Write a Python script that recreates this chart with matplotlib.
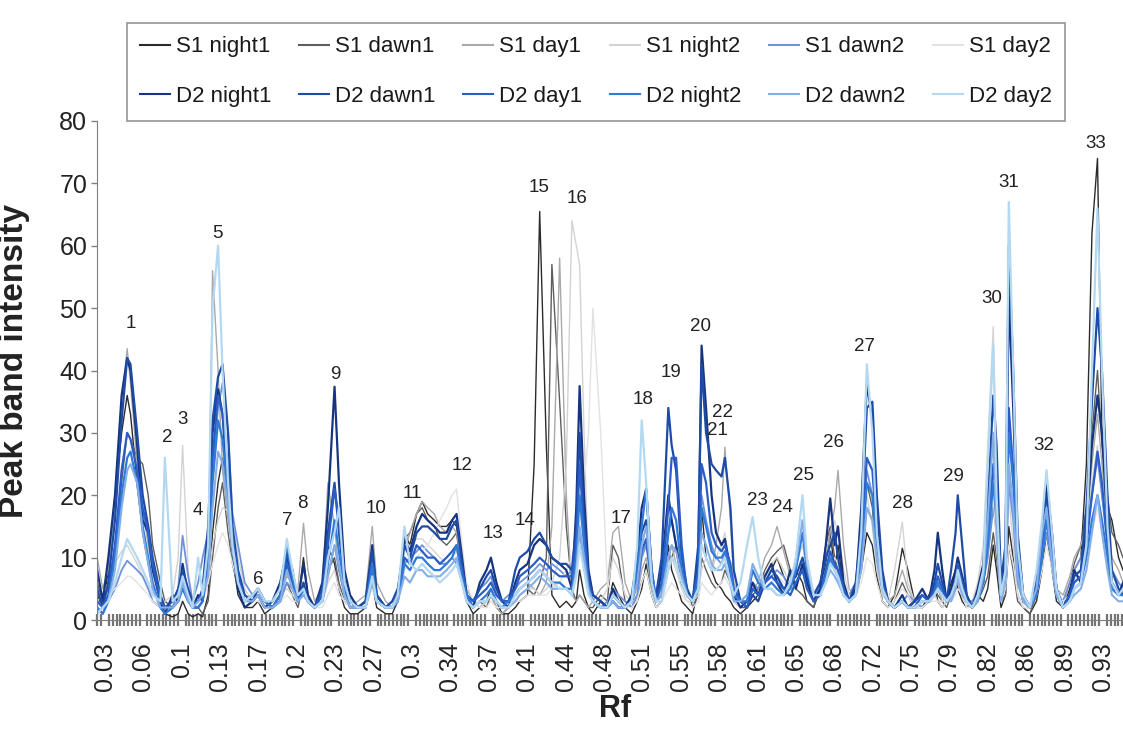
import numpy as np
import matplotlib
matplotlib.use("Agg")
import matplotlib.pyplot as plt

plt.rcParams['font.family'] = ['Liberation Sans', 'DejaVu Sans']

# ---- Rf sampling positions (read along the lane) ----
rf = [
    0.023, 0.028, 0.033, 0.039, 0.045, 0.050, 0.053, 0.059, 0.064, 0.069,
    0.073, 0.080, 0.084, 0.091, 0.096, 0.100, 0.105, 0.109, 0.114, 0.118,
    0.123, 0.127, 0.132, 0.136, 0.141, 0.145, 0.150, 0.156, 0.163, 0.168,
    0.174, 0.181, 0.188, 0.194, 0.199, 0.204, 0.209, 0.213, 0.219, 0.226,
    0.231, 0.237, 0.241, 0.246, 0.251, 0.258, 0.265, 0.271, 0.275, 0.283,
    0.289, 0.294, 0.300, 0.305, 0.311, 0.316, 0.321, 0.327, 0.332, 0.338,
    0.343, 0.347, 0.352, 0.356, 0.362, 0.368, 0.374, 0.378, 0.383, 0.388,
    0.394, 0.400, 0.404, 0.411, 0.417, 0.422, 0.428, 0.433, 0.440, 0.446,
    0.451, 0.455, 0.458, 0.462, 0.466, 0.470, 0.477, 0.483, 0.488, 0.493,
    0.499, 0.505, 0.510, 0.514, 0.518, 0.523, 0.527, 0.532, 0.538, 0.541,
    0.545, 0.550, 0.555, 0.560, 0.565, 0.568, 0.572, 0.577, 0.581, 0.586,
    0.589, 0.594, 0.597, 0.603, 0.609, 0.614, 0.619, 0.625, 0.631, 0.636,
    0.642, 0.648, 0.653, 0.659, 0.663, 0.669, 0.675, 0.680, 0.684, 0.688,
    0.691, 0.696, 0.701, 0.707, 0.712, 0.717, 0.722, 0.726, 0.731, 0.736,
    0.742, 0.749, 0.754, 0.760, 0.767, 0.773, 0.778, 0.781, 0.785, 0.789,
    0.793, 0.797, 0.799, 0.803, 0.807, 0.812, 0.817, 0.822, 0.826, 0.831,
    0.834, 0.838, 0.842, 0.845, 0.849, 0.853, 0.858, 0.864, 0.870, 0.875,
    0.879, 0.884, 0.888, 0.894, 0.900, 0.904, 0.910, 0.915, 0.920, 0.925,
    0.929, 0.934, 0.938, 0.944, 0.948,
]

# ---- peak band intensity traces ----
s1_night1 = [
    4, 2, 8, 20, 30, 36, 33, 22, 14, 9,
    5, 2, 1, 0.5, 1, 3, 1, 0.5, 1, 0.5,
    4, 14, 22, 26, 18, 10, 4, 2, 2, 3,
    1, 2, 4, 8, 5, 3, 10, 4, 2, 3,
    12, 9, 5, 2, 1, 1, 2, 6, 2, 1,
    1, 3, 14, 12, 17, 19, 17, 16, 15, 15,
    16, 15, 8, 3, 1, 2, 3, 5, 3, 1,
    1, 2, 3, 4, 25, 65.5, 28, 4, 2, 3,
    2, 3, 8, 4, 2, 1, 3, 2, 6, 4,
    2, 1, 3, 5, 9, 4, 2, 3, 12, 8,
    6, 3, 2, 1, 5, 18, 10, 8, 6, 5,
    4, 3, 2, 1, 2, 3, 4, 6, 8, 10,
    7, 5, 8, 6, 3, 2, 5, 9, 14, 8,
    12, 5, 3, 4, 8, 14, 12, 7, 3, 2,
    4, 11.5, 8, 3, 2, 4, 6, 3, 2, 3,
    6, 8, 5, 3, 2, 3, 4, 3, 5, 12,
    8, 2, 4, 15, 10, 4, 2, 1, 3, 8,
    14, 8, 3, 2, 5, 8, 10, 25, 62, 74,
    30, 18, 16, 10, 8,
]
s1_dawn1 = [
    6, 3, 5, 12, 22, 30, 29, 26, 25, 20,
    12, 6, 3, 2, 3, 5, 3, 2, 2, 1,
    3, 10, 18, 22, 14, 9, 5, 3, 4, 5,
    3, 2, 3, 6, 4, 2, 6, 3, 2, 4,
    8, 10, 6, 3, 2, 2, 3, 8, 3, 2,
    2, 4, 13, 14, 17, 18, 16, 15, 13, 12,
    13, 14, 7, 3, 2, 3, 2, 4, 2, 1,
    2, 3, 4, 5, 4, 6, 10, 57, 35, 15,
    5, 3, 4, 3, 2, 2, 4, 3, 12, 10,
    3, 2, 4, 6, 8, 4, 2, 3, 8, 10,
    12, 8, 5, 2, 4, 10, 8, 6, 5, 6,
    8, 6, 3, 2, 2, 4, 5, 8, 10, 11,
    12, 8, 5, 4, 3, 2, 6, 12, 15, 10,
    8, 4, 3, 5, 9, 22, 18, 8, 3, 2,
    3, 6, 4, 2, 2, 3, 5, 4, 3, 2,
    4, 6, 8, 5, 3, 2, 3, 5, 7, 14,
    10, 3, 4, 12, 8, 3, 2, 1, 4, 10,
    16, 9, 4, 3, 6, 9, 12, 18, 30, 40,
    28, 20, 14, 12, 10,
]
s1_day1 = [
    10, 5, 8, 18, 35, 43.5, 38, 25, 18, 12,
    8, 4, 2, 2, 3, 6, 3, 2, 3, 4,
    8, 56, 40, 24, 16, 12, 6, 3, 3, 4,
    2, 3, 4, 7, 6, 5, 15.5, 8, 3, 5,
    22, 15, 8, 4, 2, 3, 4, 15, 6, 3,
    2, 4, 11, 14, 17, 19, 18, 17, 15, 14,
    15, 14, 9, 5, 3, 2, 3, 4, 2, 1,
    2, 4, 5, 6, 5, 4, 6, 15, 58, 20,
    4, 3, 4, 3, 2, 3, 5, 6, 14, 15,
    6, 3, 4, 8, 10, 5, 3, 5, 10, 12,
    9, 6, 4, 3, 5, 12, 10, 8, 12, 18,
    27.7, 16, 6, 3, 3, 5, 6, 10, 12, 15,
    11, 7, 6, 8, 5, 3, 6, 10, 14, 18,
    24, 12, 5, 4, 8, 18, 16, 10, 4, 3,
    4, 8, 5, 3, 2, 3, 4, 5, 3, 4,
    3, 5, 6, 4, 2, 3, 4, 6, 10, 20,
    14, 4, 6, 25, 18, 6, 3, 2, 5, 12,
    18, 10, 5, 4, 7, 10, 12, 15, 25, 33,
    25, 15, 10, 8, 6,
]
s1_night2 = [
    3, 4, 6, 9, 11, 12, 11, 9, 7, 5,
    3, 2, 3, 4, 10, 28, 8, 3, 2, 3,
    6, 12, 16, 18, 17.5, 17, 10, 5, 3, 4,
    2, 3, 4, 5, 4, 3, 6, 4, 2, 3,
    6, 8, 5, 3, 2, 2, 3, 7, 3, 2,
    2, 3, 11, 12, 13, 13, 12, 11, 10, 9,
    10, 11, 8, 4, 3, 2, 3, 4, 3, 2,
    2, 3, 4, 5, 5, 4, 5, 6, 10, 25,
    64, 60, 57, 30, 8, 4, 3, 5, 10, 8,
    4, 3, 5, 12, 15, 6, 3, 4, 8, 10,
    8, 5, 3, 3, 4, 8, 10, 8, 10, 12,
    14, 8, 4, 3, 4, 8, 6, 7, 9, 10,
    8, 6, 9, 12, 8, 4, 5, 8, 12, 16,
    14, 8, 4, 5, 10, 20, 15, 8, 4, 3,
    8, 15.7, 6, 3, 2, 3, 4, 3, 3, 4,
    4, 6, 8, 6, 3, 3, 6, 12, 28, 47,
    25, 4, 8, 20, 12, 4, 2, 2, 5, 12,
    20, 12, 5, 3, 6, 8, 10, 14, 22, 28,
    20, 12, 8, 6, 5,
]
s1_dawn2 = [
    2, 1, 3, 5, 8, 9.5, 9, 8, 7, 5,
    3, 2, 1, 2, 5, 13.5, 7, 3, 6, 10,
    14, 24, 34, 38, 30, 17, 12, 6, 4, 5,
    3, 2, 3, 6, 5, 3, 4, 3, 2, 3,
    7, 12, 8, 4, 2, 2, 3, 6, 3, 2,
    3, 4, 9, 10, 11, 12, 11, 10, 9, 9,
    10, 9, 6, 4, 3, 5, 6, 7, 4, 3,
    4, 5, 6, 7, 8, 9, 8, 9, 8, 7,
    8, 10, 14, 9, 5, 3, 2, 3, 5, 4,
    3, 2, 4, 10, 12, 6, 3, 4, 14, 16,
    12, 7, 4, 3, 6, 20, 16, 12, 10, 9,
    11, 7, 4, 3, 4, 6, 5, 6, 7, 8,
    7, 5, 6, 8, 6, 4, 5, 8, 10, 9,
    8, 5, 4, 6, 12, 24, 20, 10, 5, 3,
    2, 3, 4, 3, 2, 3, 5, 6, 4, 3,
    4, 7, 10, 6, 3, 3, 4, 6, 10, 18,
    14, 4, 6, 22, 16, 6, 3, 2, 5, 10,
    14, 9, 4, 3, 6, 8, 10, 14, 20, 26,
    20, 12, 8, 6, 5,
]
s1_day2 = [
    2, 3, 4, 5, 6, 7, 7, 6, 5, 4,
    3, 2, 2, 3, 4, 6, 4, 3, 3, 4,
    6, 9, 12, 14, 12, 9, 6, 4, 3, 3,
    2, 2, 3, 4, 3, 3, 5, 3, 2, 2,
    4, 6, 4, 3, 2, 2, 2, 5, 3, 2,
    2, 3, 8, 9, 10, 11, 12, 14, 16, 18,
    20, 21, 12, 6, 3, 2, 2, 3, 2, 2,
    2, 3, 3, 4, 4, 4, 4, 5, 6, 8,
    10, 12, 15, 22, 30, 50, 30, 6, 4, 3,
    2, 2, 3, 6, 8, 4, 2, 3, 5, 6,
    5, 4, 3, 2, 3, 6, 5, 4, 5, 6,
    7, 5, 3, 2, 3, 5, 4, 5, 6, 7,
    6, 5, 6, 8, 6, 4, 4, 6, 8, 10,
    9, 6, 4, 4, 6, 10, 9, 6, 3, 2,
    3, 5, 4, 2, 2, 3, 3, 3, 2, 3,
    3, 4, 5, 4, 2, 2, 4, 8, 14, 20,
    12, 3, 5, 12, 9, 4, 2, 2, 4, 8,
    12, 8, 4, 3, 4, 6, 8, 10, 14, 18,
    14, 9, 6, 5, 4,
]
d2_night1 = [
    8, 3, 10, 20, 36, 42, 40, 28, 16, 14,
    8, 3, 1, 4, 3, 9, 4, 2, 4, 3,
    12, 30, 37, 33, 20, 12, 5, 2, 3, 4,
    2, 3, 6, 11, 8, 3, 9, 4, 2, 6,
    18, 37.4, 22, 8, 4, 2, 3, 12, 4, 2,
    2, 4, 13, 11, 15, 17, 16, 15, 14, 14,
    16, 17, 10, 4, 2, 6, 8, 10, 6, 3,
    2, 6, 8, 9, 12, 13, 12, 10, 9, 8,
    5, 18, 37.5, 20, 8, 4, 3, 2, 5, 3,
    2, 4, 10, 18, 21, 8, 3, 8, 20, 16,
    12, 6, 4, 3, 10, 44, 34, 20, 14, 12,
    13, 8, 4, 2, 3, 6, 4, 7, 9, 6,
    4, 8, 5, 9, 6, 3, 5, 12, 19.5, 12,
    15, 6, 3, 5, 18, 38, 32, 18, 7, 3,
    2, 4, 2, 3, 5, 3, 8, 14, 8, 3,
    5, 8, 10, 7, 4, 2, 5, 9, 20, 30,
    20, 5, 10, 52, 34, 12, 4, 2, 6, 14,
    22, 14, 5, 2, 4, 8, 6, 15, 28, 36,
    30, 15, 6, 4, 6,
]
d2_dawn1 = [
    5, 2, 6, 16, 32, 42, 41, 30, 20, 15,
    10, 4, 2, 3, 5, 8, 5, 3, 3, 5,
    15, 32, 39, 41, 30, 15, 8, 4, 3, 5,
    3, 2, 4, 10, 7, 3, 6, 3, 2, 5,
    14, 22, 14, 6, 3, 2, 3, 11, 4, 2,
    3, 5, 12, 10, 14, 15, 15, 14, 13, 13,
    15, 16, 9, 4, 3, 5, 7, 8, 5, 3,
    3, 8, 10, 11, 13, 14, 12, 10, 9, 9,
    8, 15, 30, 16, 7, 4, 3, 2, 4, 3,
    2, 3, 8, 14, 16, 6, 4, 10, 34, 28,
    24, 10, 5, 3, 12, 41, 30, 25, 24, 23,
    26, 18, 8, 3, 2, 4, 3, 6, 8, 7,
    5, 6, 7, 10, 7, 4, 6, 10, 12, 14,
    10, 5, 3, 6, 15, 34, 35, 20, 8, 3,
    2, 3, 2, 3, 4, 3, 6, 9, 6, 3,
    8, 14, 20, 12, 4, 2, 4, 7, 18, 36,
    28, 6, 12, 60, 40, 14, 4, 2, 6, 14,
    20, 13, 5, 2, 4, 7, 8, 18, 35, 50,
    40, 20, 8, 5, 4,
]
d2_day1 = [
    3, 2, 4, 12, 24, 30, 29, 24, 18, 14,
    9, 3, 2, 2, 3, 6, 3, 2, 2, 3,
    10, 26, 36, 33, 24, 13, 7, 3, 4, 5,
    3, 2, 3, 9, 6, 3, 5, 3, 2, 4,
    12, 21, 16, 6, 3, 2, 2, 8, 3, 2,
    2, 3, 10, 9, 12, 11, 10, 10, 9, 10,
    11, 12, 8, 4, 3, 4, 5, 6, 4, 3,
    3, 5, 7, 8, 9, 10, 9, 8, 7, 7,
    7, 12, 25, 14, 6, 3, 2, 2, 3, 2,
    2, 3, 6, 11, 13, 6, 3, 6, 18, 26,
    26, 12, 4, 3, 8, 25, 22, 14, 12, 11,
    12, 9, 5, 3, 2, 5, 4, 6, 7, 6,
    5, 4, 6, 8, 5, 3, 4, 8, 11, 9,
    8, 5, 3, 4, 12, 26, 24, 14, 6, 3,
    2, 3, 2, 2, 4, 3, 5, 7, 5, 3,
    4, 6, 9, 6, 3, 2, 4, 6, 14, 25,
    18, 4, 8, 34, 24, 10, 3, 2, 5, 12,
    18, 12, 5, 2, 4, 6, 7, 12, 20, 27,
    22, 12, 6, 4, 5,
]
d2_night2 = [
    2, 1, 3, 10, 20, 26, 27, 22, 15, 10,
    6, 2, 1, 2, 3, 5, 3, 2, 2, 3,
    8, 22, 32, 29, 20, 12, 6, 3, 4, 5,
    3, 2, 4, 12, 7, 3, 5, 3, 2, 3,
    9, 16, 11, 5, 2, 2, 2, 9, 3, 2,
    2, 3, 9, 8, 10, 10, 9, 8, 8, 9,
    10, 12, 7, 4, 2, 3, 4, 5, 3, 2,
    3, 4, 5, 6, 7, 8, 7, 6, 6, 5,
    5, 10, 20, 12, 5, 3, 2, 2, 3, 2,
    2, 3, 8, 15, 21, 8, 3, 4, 14, 18,
    16, 8, 4, 3, 6, 18, 15, 11, 10, 10,
    11, 8, 4, 3, 3, 8, 6, 5, 6, 5,
    4, 5, 8, 14, 8, 4, 4, 7, 10, 8,
    7, 4, 3, 4, 10, 22, 20, 12, 5, 3,
    2, 3, 2, 2, 3, 3, 4, 6, 4, 3,
    4, 5, 8, 5, 3, 2, 3, 6, 12, 22,
    16, 4, 7, 30, 22, 8, 3, 2, 4, 10,
    16, 10, 4, 2, 3, 5, 6, 10, 16, 20,
    16, 10, 5, 4, 4,
]
d2_dawn2 = [
    1, 2, 3, 8, 18, 24, 25, 22, 14, 9,
    5, 2, 2, 2, 3, 6, 3, 2, 3, 4,
    7, 18, 27, 25, 18, 11, 6, 3, 3, 4,
    2, 2, 3, 8, 5, 3, 4, 3, 2, 3,
    7, 12, 9, 4, 2, 2, 2, 6, 3, 2,
    2, 3, 7, 6, 8, 8, 7, 7, 7, 8,
    9, 10, 6, 3, 2, 3, 3, 4, 3, 2,
    2, 3, 4, 5, 6, 7, 6, 5, 5, 5,
    4, 8, 15, 10, 5, 3, 2, 2, 3, 2,
    2, 3, 6, 12, 15, 6, 3, 4, 10, 12,
    11, 7, 4, 3, 5, 14, 12, 9, 8, 8,
    9, 6, 3, 3, 4, 9, 7, 5, 5, 4,
    4, 6, 9, 16, 9, 4, 4, 6, 8, 7,
    6, 4, 3, 4, 8, 18, 16, 10, 5, 3,
    2, 3, 2, 2, 3, 3, 4, 5, 4, 3,
    3, 5, 7, 4, 3, 2, 3, 7, 16, 30,
    14, 3, 6, 25, 18, 7, 3, 2, 5, 14,
    18, 9, 4, 2, 3, 4, 5, 8, 14, 20,
    14, 8, 4, 3, 3,
]
d2_day2 = [
    1, 2, 3, 6, 10, 13, 12, 10, 8, 6,
    4, 3, 26, 3, 4, 7, 4, 2, 10, 4,
    12, 50, 60, 40, 22, 12, 6, 3, 4, 5,
    3, 3, 5, 13, 8, 4, 5, 3, 2, 3,
    10, 14, 18, 6, 3, 2, 2, 7, 3, 2,
    2, 4, 15, 9, 8, 9, 8, 7, 6, 7,
    8, 9, 6, 3, 2, 3, 3, 4, 3, 2,
    2, 4, 5, 6, 7, 8, 7, 6, 5, 5,
    4, 7, 12, 8, 4, 3, 2, 2, 4, 3,
    2, 3, 12, 32, 22, 6, 3, 3, 8, 10,
    9, 6, 4, 3, 5, 12, 10, 8, 8, 9,
    10, 6, 4, 6, 12, 16.5, 10, 5, 5, 4,
    4, 6, 10, 20, 10, 4, 4, 6, 9, 8,
    7, 4, 3, 4, 14, 41, 30, 14, 5, 3,
    2, 3, 2, 2, 3, 3, 4, 5, 4, 3,
    4, 6, 8, 5, 3, 2, 4, 8, 25, 44,
    20, 4, 8, 67, 40, 12, 4, 2, 8, 16,
    24, 14, 5, 2, 3, 5, 6, 12, 40, 66,
    40, 15, 6, 4, 5,
]

series_names = ["S1 night1", "S1 dawn1", "S1 day1", "S1 night2", "S1 dawn2", "S1 day2",
                "D2 night1", "D2 dawn1", "D2 day1", "D2 night2", "D2 dawn2", "D2 day2"]
series_values = [s1_night1, s1_dawn1, s1_day1, s1_night2, s1_dawn2, s1_day2,
                 d2_night1, d2_dawn1, d2_day1, d2_night2, d2_dawn2, d2_day2]

tick_labels = ['0.03', '0.06', '0.1', '0.13', '0.17', '0.2', '0.23', '0.27', '0.3',
               '0.34', '0.37', '0.41', '0.44', '0.48', '0.51', '0.55', '0.58', '0.61',
               '0.65', '0.68', '0.72', '0.75', '0.79', '0.82', '0.86', '0.89', '0.93']

# peak number annotations: (number, Rf, intensity)
peak_labels = [
    (1, 0.053, 47.6), (2, 0.086, 29.3), (3, 0.100, 32.2), (4, 0.114, 17.5),
    (5, 0.131, 62.0), (6, 0.168, 6.5), (7, 0.194, 16.0), (8, 0.208, 18.6),
    (9, 0.238, 39.3), (10, 0.274, 17.9), (11, 0.307, 20.3), (12, 0.352, 24.8),
    (13, 0.380, 13.9), (14, 0.409, 16.0), (15, 0.421, 69.4), (16, 0.456, 67.6),
    (17, 0.495, 16.3), (18, 0.515, 35.3), (19, 0.540, 39.7), (20, 0.567, 47.0),
    (21, 0.582, 30.4), (22, 0.587, 33.2), (23, 0.618, 19.2), (24, 0.641, 18.1),
    (25, 0.660, 23.2), (26, 0.687, 28.5), (27, 0.715, 43.8), (28, 0.749, 18.7),
    (29, 0.795, 23.0), (30, 0.830, 51.6), (31, 0.845, 70.2), (32, 0.877, 28.0),
    (33, 0.923, 76.4),
]

# ---- styles ----
colors = ['#2b2b2b', '#5e5e5e', '#a9a9a9', '#d3d3d3', '#6f92dc', '#e2e2e2',
          '#17357f', '#1e4ba6', '#2a5ec6', '#2f7ad8', '#85ade6', '#b3d8f2']
widths = [1.0, 1.0, 1.0, 1.0, 1.3, 1.0, 1.6, 1.6, 1.6, 1.6, 1.5, 1.6]

W, H = 1123, 733
fig = plt.figure(figsize=(W / 100, H / 100), dpi=100)
ax = fig.add_axes([97 / W, 113 / H, 1026 / W, 499 / H])

lines = []
for name, vals, col, lw in zip(series_names, series_values, colors, widths):
    ln, = ax.plot(rf, vals, color=col, lw=lw, label=name, solid_joinstyle='round')
    lines.append(ln)

ax.set_xlim(0.0228, 0.948)
ax.set_ylim(0, 80)

tick_pos = np.linspace(0.03, 0.93, len(tick_labels))
step = (tick_pos[1] - tick_pos[0]) / 10
minor_pos = np.arange(tick_pos[0] - 2 * step, 0.948, step)
ax.set_xticks(tick_pos)
ax.set_xticklabels(tick_labels, rotation=90, fontsize=18, color='#222222')
ax.set_xticks(minor_pos, minor=True)
ax.tick_params(axis='x', which='major', length=0, pad=16)
ax.tick_params(axis='x', which='minor', direction='inout', length=8, width=1.6, color='#747474')

ax.set_yticks(range(0, 81, 10))
ax.tick_params(axis='y', direction='out', length=4, width=1, color='#808080',
               labelsize=18, pad=3, labelcolor='#222222')

for s in ['top', 'right']:
    ax.spines[s].set_visible(False)
ax.spines['left'].set_color('#7f7f7f')
ax.spines['bottom'].set_color('#7f7f7f')

for n, x, y in peak_labels:
    ax.text(x, y, str(n), ha='center', va='center', fontsize=13.5, color='#222222')

ax.set_ylabel('Peak band intensity', fontsize=24, fontweight='bold', color='#222222')
ax.yaxis.set_label_coords(-0.065, 0.52)
ax.set_xlabel('Rf', fontsize=22, fontweight='bold', color='#222222')
ax.xaxis.set_label_coords(0.505, -0.148)

# legend: 2 rows x 6 columns (S1 row on top, D2 row below)
order = []
for i in range(6):
    order += [i, i + 6]
leg = ax.legend([lines[i] for i in order], [series_names[i] for i in order],
                ncol=6, loc='upper left', bbox_to_anchor=(127 / W, 1 - 23 / H),
                bbox_transform=fig.transFigure, frameon=True, fancybox=False,
                edgecolor='#7a7a7a', fontsize=16, handlelength=1.35,
                handletextpad=0.25, columnspacing=1.26, borderpad=0.6,
                labelspacing=1.3, borderaxespad=0)
leg.get_frame().set_linewidth(1.2)
for t in leg.get_texts():
    t.set_color('#1a1a1a')
for l in leg.get_lines():
    l.set_linewidth(1.5)

fig.savefig('out.png', dpi=100)
